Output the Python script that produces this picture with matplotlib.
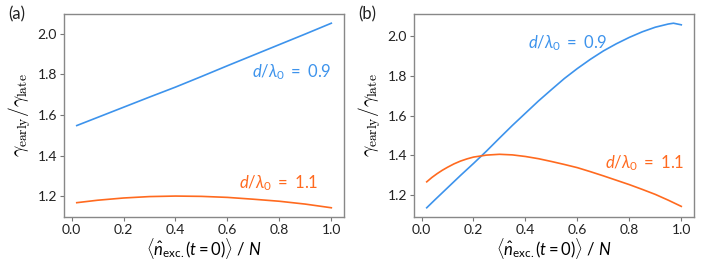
import numpy as np
import matplotlib
matplotlib.use("Agg")
import matplotlib.pyplot as plt

plt.rcParams['font.family'] = ['Lato', 'DejaVu Sans']
plt.rcParams['mathtext.fontset'] = 'custom'
plt.rcParams['mathtext.rm'] = 'Lato'
plt.rcParams['mathtext.it'] = 'Lato:italic'
plt.rcParams['mathtext.bf'] = 'Lato:bold'

blue = '#3d93ec'
orange = '#ff6a1f'

# panel (a)
xa = [0.02, 0.1, 0.2, 0.3, 0.4, 0.5, 0.6, 0.7, 0.8, 0.9, 1.0]
a_09 = [1.548, 1.588, 1.638, 1.688, 1.737, 1.789, 1.842, 1.894, 1.946, 1.998, 2.051]
a_11 = [1.169, 1.181, 1.192, 1.199, 1.2015, 1.200, 1.195, 1.186, 1.176, 1.162, 1.144]

# panel (b)
xb_09 = [0.02, 0.05, 0.1, 0.15, 0.2, 0.25, 0.3, 0.35, 0.4, 0.45, 0.5,
         0.55, 0.6, 0.65, 0.7, 0.75, 0.8, 0.85, 0.9, 0.95, 0.97, 1.0]
b_09 = [1.138, 1.176, 1.238, 1.300, 1.360, 1.422, 1.487, 1.551, 1.612, 1.673, 1.730,
        1.786, 1.836, 1.882, 1.924, 1.960, 1.992, 2.020, 2.043, 2.059, 2.063, 2.055]
xb_11 = [0.02, 0.04, 0.06, 0.08, 0.1, 0.125, 0.15, 0.175, 0.2, 0.25, 0.3, 0.35, 0.4,
         0.45, 0.5, 0.55, 0.6, 0.65, 0.7, 0.75, 0.8, 0.85, 0.9, 0.95, 1.0]
b_11 = [1.268, 1.290, 1.309, 1.326, 1.341, 1.358, 1.372, 1.383, 1.392, 1.402, 1.406,
        1.403, 1.395, 1.384, 1.370, 1.355, 1.339, 1.319, 1.298, 1.276, 1.254, 1.230,
        1.205, 1.176, 1.145]

fig = plt.figure(figsize=(7.06, 2.61), dpi=100)
ax1 = fig.add_axes([0.0907, 0.1686, 0.3966, 0.7778])
ax2 = fig.add_axes([0.5864, 0.1686, 0.3966, 0.7778])

ax1.plot(xa, a_09, color=blue, lw=1.2)
ax1.plot(xa, a_11, color=orange, lw=1.2)
ax2.plot(xb_09, b_09, color=blue, lw=1.2)
ax2.plot(xb_11, b_11, color=orange, lw=1.2)

lab09 = r'$d/\lambda_0\ =\ 0.9$'
lab11 = r'$d/\lambda_0\ =\ 1.1$'
ax1.text(1.0, 1.81, lab09, color=blue, fontsize=12, ha='right', va='center')
ax1.text(0.95, 1.266, lab11, color=orange, fontsize=12, ha='right', va='center')
ax2.text(0.41, 1.963, lab09, color=blue, fontsize=12, ha='left', va='center')
ax2.text(1.014, 1.36, lab11, color=orange, fontsize=12, ha='right', va='center')

for ax in (ax1, ax2):
    ax.set_xticks([0.0, 0.2, 0.4, 0.6, 0.8, 1.0])
    ax.set_yticks([1.2, 1.4, 1.6, 1.8, 2.0])
    ax.tick_params(direction='out', length=3, color='#777777', labelsize=10,
                   labelcolor='#222222', pad=2)
    for s in ax.spines.values():
        s.set_color('#888888')
        s.set_linewidth(1.0)
    ax.set_xlabel(r'$\langle \hat{n}_{\rm exc.}(t=0)\rangle$ / $N$', fontsize=12, labelpad=0)
    ax.set_ylabel(r'$\gamma_{\rm early}/\gamma_{\rm late}$', fontsize=14,
                  math_fontfamily='cm', labelpad=3)

fig.text(0.012, 0.925, '(a)', fontsize=12, color='#222222')
fig.text(0.507, 0.925, '(b)', fontsize=12, color='#222222')

fig.savefig('out.png', dpi=100)
